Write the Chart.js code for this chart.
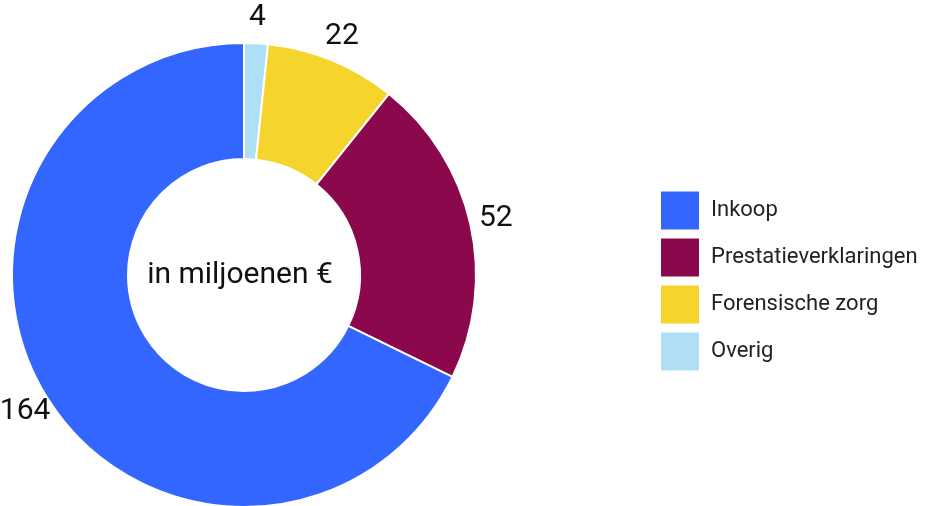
<!DOCTYPE html>
<html>
<head>
<meta charset="utf-8">
<script src="https://cdn.jsdelivr.net/npm/chart.js@4"></script>
<style>
  html, body { margin: 0; padding: 0; background: #ffffff; overflow: hidden; }
  #wrap { width: 940px; height: 512px; }
</style>
</head>
<body>
<div id="wrap"><canvas id="c" width="940" height="512"></canvas></div>
<script>
// Data (drawing order, clockwise from top)
const categories = ['Overig', 'Forensische zorg', 'Prestatieverklaringen', 'Inkoop'];
const values = [4, 22, 52, 164];
const sliceColors = ['#aedff7', '#f5d42c', '#8a084b', '#3366ff'];
const centerText = 'in miljoenen €';

// Draws the value labels outside each arc, and the centre text
const valueLabels = {
  id: 'valueLabels',
  afterDatasetsDraw(chart) {
    const ctx = chart.ctx;
    const meta = chart.getDatasetMeta(0);
    ctx.save();
    ctx.fillStyle = '#111111';
    ctx.textAlign = 'center';
    ctx.textBaseline = 'middle';
    ctx.font = '30px Roboto';
    meta.data.forEach((arc, i) => {
      const p = arc.getProps(['x', 'y', 'startAngle', 'endAngle', 'outerRadius'], true);
      const mid = (p.startAngle + p.endAngle) / 2;
      const r = p.outerRadius + 26;
      ctx.fillText(String(chart.data.datasets[0].data[i]), p.x + Math.cos(mid) * r, p.y + Math.sin(mid) * r);
    });
    const a0 = meta.data[0];
    ctx.font = '30px Roboto';
    ctx.fillText(centerText, a0.x - 4, a0.y);
    ctx.restore();
  }
};

// Moves the legend away from the doughnut, to the right side of the canvas
const legendShift = {
  id: 'legendShift',
  afterLayout(chart) {
    const lg = chart.legend;
    const dx = 176, dy = 6;
    lg.left += dx;
    lg.right = chart.width;
    lg.width = lg.right - lg.left;
    lg.top += dy; lg.bottom += dy;
  }
};

new Chart(document.getElementById('c'), {
  type: 'doughnut',
  data: {
    labels: categories,
    datasets: [{
      data: values,
      backgroundColor: sliceColors,
      borderColor: '#ffffff',
      borderWidth: 2,
      hoverOffset: 0
    }]
  },
  options: {
    responsive: false,
    animation: false,
    cutout: '50%',
    layout: { padding: { top: 42, bottom: 4, left: 11, right: 263 } },
    plugins: {
      tooltip: { enabled: false },
      legend: {
        position: 'right',
        reverse: true,
        maxWidth: 200,
        labels: {
          boxWidth: 40,
          boxHeight: 40,
          padding: 7,
          color: '#222222',
          font: { family: 'Roboto', size: 22 }
        }
      }
    }
  },
  plugins: [valueLabels, legendShift]
});
</script>
</body>
</html>
